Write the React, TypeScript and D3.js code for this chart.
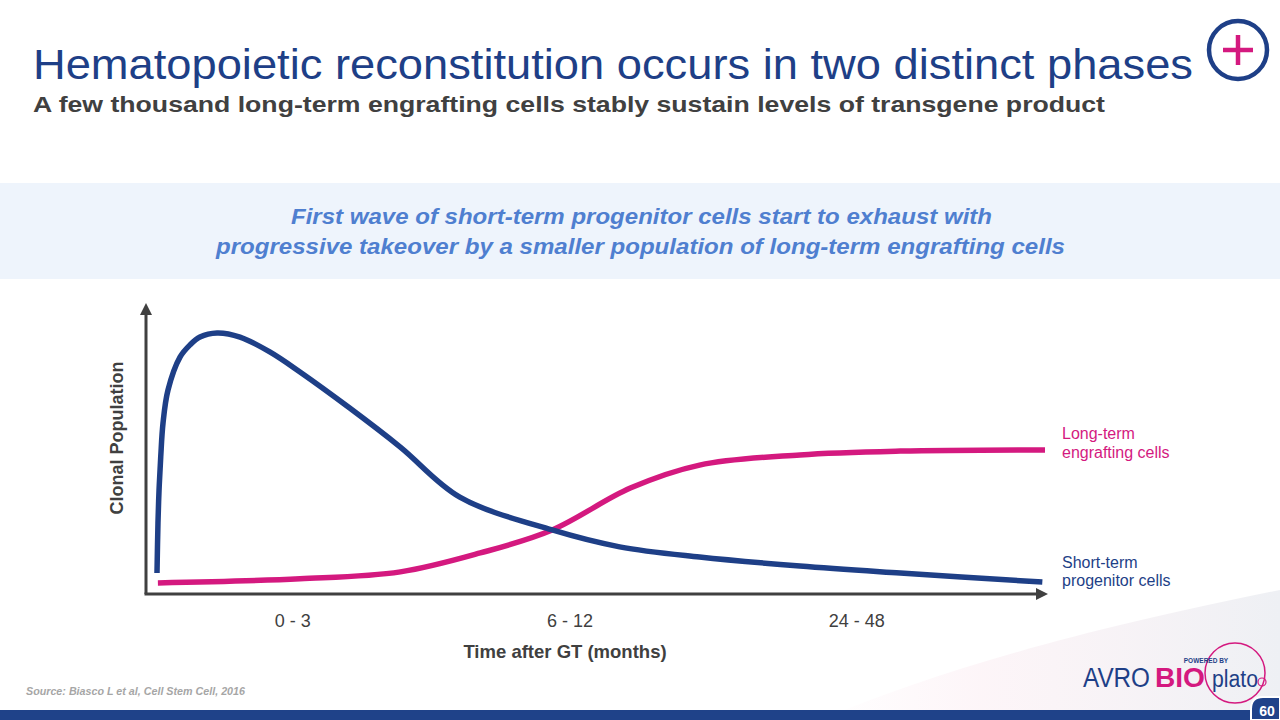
import React from "react";
import * as d3 from "d3";

// ---- Data (x: 0..100 time fraction, y: 0..100 relative clonal population) ----
const shortTermX = [0, 0.11, 0.23, 0.42, 0.68, 1.24, 2.59, 3.72, 4.84, 6.76, 9.35, 12.7, 16.1, 21.7, 27.4, 34.1, 44.5, 52.1, 61.1, 72.4, 83.7, 99.7];
const shortTermY = [7.2, 24.4, 35.7, 47.1, 58.8, 70.1, 81.4, 85.6, 88.3, 89.7, 88.3, 83.2, 76.3, 63.9, 50.5, 33.3, 22.0, 16.2, 12.7, 9.6, 7.2, 4.1];
const longTermX = [0.1, 16.1, 27.4, 36.4, 44.5, 53.3, 61.1, 72.4, 83.7, 100];
const longTermY = [3.8, 5.2, 7.6, 14.1, 22.0, 36.4, 44.3, 47.8, 49.1, 49.5];
const tickLabels = ["0 - 3", "6 - 12", "24 - 48"];
const tickPositions = [15.3, 46.5, 78.8];

const NAVY = "#1e3f87";
const PINK = "#d4197f";
const AXIS = "#404040";
const FONT = "'Liberation Sans', Arial, sans-serif";

export default function App() {
  const x = d3.scaleLinear().domain([0, 100]).range([157, 1045]);
  const y = d3.scaleLinear().domain([0, 100]).range([594, 303]);

  const line = d3
    .line<[number, number]>()
    .x((d) => x(d[0]))
    .y((d) => y(d[1]))
    .curve(d3.curveCatmullRom.alpha(0.5));

  const shortPts = shortTermX.map((v, i) => [v, shortTermY[i]] as [number, number]);
  const longPts = longTermX.map((v, i) => [v, longTermY[i]] as [number, number]);

  const axisLeft = 146;
  const axisBottom = 594;
  const axisTop = 303;
  const axisRight = 1048;

  return (
    <svg
      width={1280}
      height={720}
      viewBox="0 0 1280 720"
      style={{ position: "absolute", left: 0, top: 0, display: "block", background: "#fff" }}
      fontFamily={FONT}
    >
      <defs>
        <linearGradient id="swoosh" x1="0" y1="0" x2="1" y2="0">
          <stop offset="0" stopColor="#fdf0f5" stopOpacity="0" />
          <stop offset="0.35" stopColor="#fcf1f5" stopOpacity="0.7" />
          <stop offset="1" stopColor="#eef0f4" stopOpacity="1" />
        </linearGradient>
      </defs>
      <rect x={0} y={0} width={1280} height={720} fill="#fff" />
      {/* subtle background swoosh bottom right */}
      <path d="M 820 720 C 940 670, 1080 630, 1280 590 L 1280 720 Z" fill="url(#swoosh)" />

      {/* Title */}
      <text x={33} y={79} fontSize={42} fill={NAVY} textLength={1160} lengthAdjust="spacingAndGlyphs">
        Hematopoietic reconstitution occurs in two distinct phases
      </text>
      <text x={33} y={112} fontSize={22} fontWeight="bold" fill="#404040" textLength={1072} lengthAdjust="spacingAndGlyphs">
        A few thousand long-term engrafting cells stably sustain levels of transgene product
      </text>

      {/* Plus icon */}
      <circle cx={1238} cy={50} r={29} fill="none" stroke={NAVY} strokeWidth={4.5} />
      <line x1={1238} y1={35} x2={1238} y2={65} stroke={PINK} strokeWidth={4.5} />
      <line x1={1223} y1={50} x2={1253} y2={50} stroke={PINK} strokeWidth={4.5} />

      {/* Band */}
      <rect x={0} y={183} width={1280} height={96} fill="#eef4fc" />
      <text x={291} y={224} fontSize={22} fontStyle="italic" fontWeight="bold" fill="#4f7fd0" textLength={701} lengthAdjust="spacingAndGlyphs">
        First wave of short-term progenitor cells start to exhaust with
      </text>
      <text x={216} y={254} fontSize={22} fontStyle="italic" fontWeight="bold" fill="#4f7fd0" textLength={849} lengthAdjust="spacingAndGlyphs">
        progressive takeover by a smaller population of long-term engrafting cells
      </text>

      {/* Axes */}
      <line x1={axisLeft} y1={axisBottom} x2={axisLeft} y2={axisTop + 10} stroke={AXIS} strokeWidth={3} />
      <path d={`M ${axisLeft - 6} ${axisTop + 12} L ${axisLeft} ${axisTop} L ${axisLeft + 6} ${axisTop + 12} Z`} fill={AXIS} />
      <line x1={axisLeft - 1.5} y1={axisBottom} x2={axisRight - 10} y2={axisBottom} stroke={AXIS} strokeWidth={3} />
      <path d={`M ${axisRight - 12} ${axisBottom - 6} L ${axisRight} ${axisBottom} L ${axisRight - 12} ${axisBottom + 6} Z`} fill={AXIS} />

      {/* Curves */}
      <path d={line(longPts) || ""} fill="none" stroke={PINK} strokeWidth={5.5} />
      <path d={line(shortPts) || ""} fill="none" stroke={NAVY} strokeWidth={5.5} />

      {/* Tick labels */}
      {tickLabels.map((t, i) => (
        <text key={t} x={x(tickPositions[i])} y={627} textAnchor="middle" fontSize={18} fill={AXIS}>
          {t}
        </text>
      ))}
      <text x={565} y={658} textAnchor="middle" fontSize={18.5} fontWeight="bold" fill={AXIS}>
        Time after GT (months)
      </text>
      <text
        transform="translate(123,438) rotate(-90)"
        textAnchor="middle"
        fontSize={18}
        fontWeight="bold"
        fill={AXIS}
      >
        Clonal Population
      </text>

      {/* Series labels */}
      <text x={1062} y={439} fontSize={16} fill={PINK}>Long-term</text>
      <text x={1062} y={458} fontSize={16} fill={PINK}>engrafting cells</text>
      <rect x={1055} y={548} width={126} height={48} fill="#fff" />
      <text x={1062} y={568} fontSize={16} fill={NAVY}>Short-term</text>
      <text x={1062} y={586} fontSize={16} fill={NAVY}>progenitor cells</text>

      {/* Source */}
      <text x={26} y={695} fontSize={11} fontStyle="italic" fontWeight="bold" fill="#a6a6a6" textLength={219} lengthAdjust="spacingAndGlyphs">
        Source: Biasco L et al, Cell Stem Cell, 2016
      </text>

      {/* Logo */}
      <text x={1083} y={687} fontSize={27} fill={NAVY} textLength={67} lengthAdjust="spacingAndGlyphs">AVRO</text>
      <text x={1155} y={687} fontSize={27} fill={PINK} fontWeight="bold" textLength={50} lengthAdjust="spacingAndGlyphs">BIO</text>
      <circle cx={1235} cy={673} r={30} fill="none" stroke={PINK} strokeWidth={1.5} />
      <text x={1206} y={663} fontSize={6.5} fontWeight="bold" fill={NAVY} textAnchor="middle">POWERED BY</text>
      <text x={1212} y={687} fontSize={23} fill={NAVY} textLength={46} lengthAdjust="spacingAndGlyphs">plato</text>
      <circle cx={1262} cy={682} r={4} fill="none" stroke={PINK} strokeWidth={1.2} />

      {/* Footer */}
      <rect x={0} y={710} width={1280} height={10} fill="#1f4289" />
      <path d="M 1251 720 L 1251 709 Q 1251 697 1263 697 L 1280 697 L 1280 720 Z" fill="#1f4289" stroke="#fff" strokeWidth={2} />
      <text x={1267} y={716} textAnchor="middle" fontSize={14} fontWeight="bold" fill="#fff">60</text>
    </svg>
  );
}
